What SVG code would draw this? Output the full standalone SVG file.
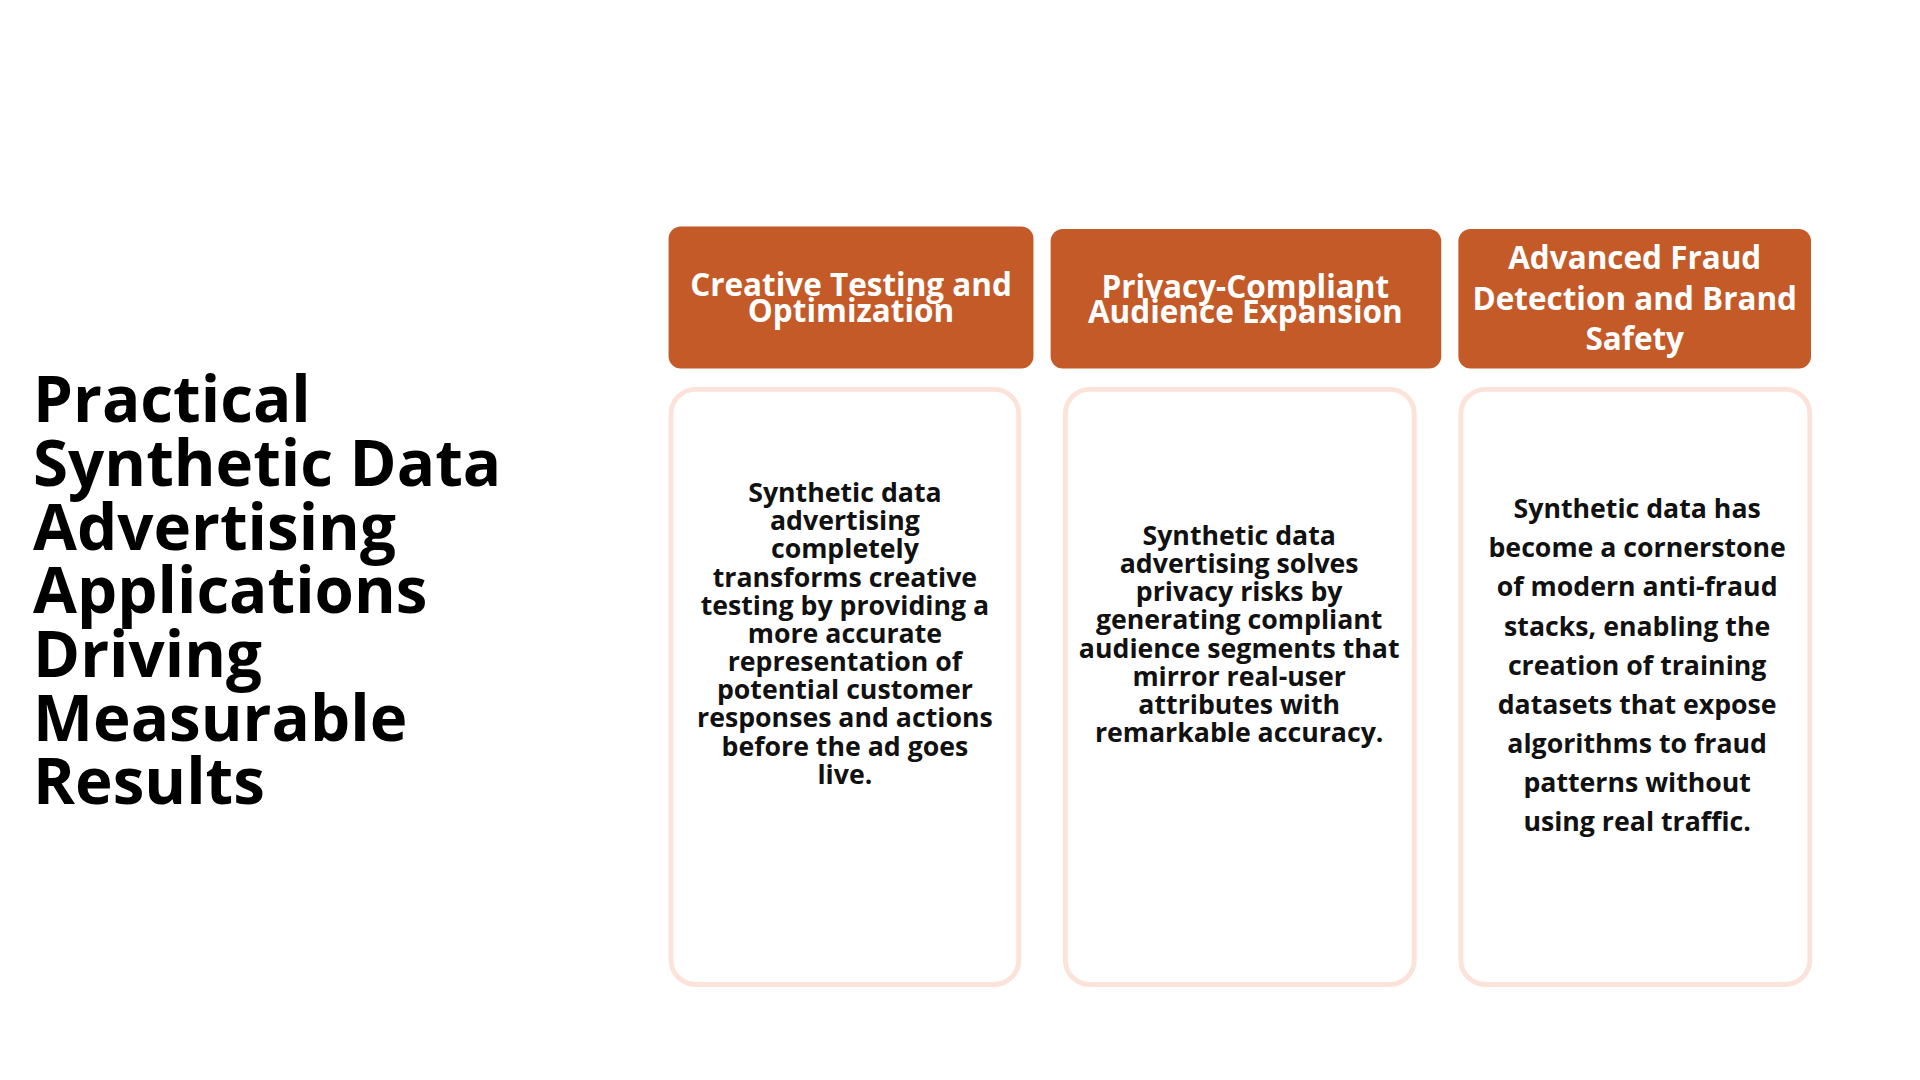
<svg xmlns="http://www.w3.org/2000/svg" width="1920" height="1080" viewBox="0 0 1920 1080">
<style>
.h{fill:#C45A28}
.b{fill:#fff;stroke:#FCE3DA;stroke-width:4}
text{font-family:"Open Sans","Noto Sans",sans-serif;font-weight:bold;text-anchor:middle}
.ht{fill:#fff;font-size:25.7px}
.bt{fill:#111;font-size:21.8px}
.t{font-size:52px;text-anchor:start;fill:#000}
</style>
<rect width="1920" height="1080" fill="#fff"/>
<g transform="scale(1.2245)">
<g id="title"><text class="t" x="28"><tspan x="27" y="345">Practical</tspan><tspan x="27" y="397">Synthetic Data</tspan><tspan x="27" y="449">Advertising</tspan><tspan x="27" y="501">Applications</tspan><tspan x="27" y="553">Driving</tspan><tspan x="27" y="605">Measurable</tspan><tspan x="27" y="657">Results</tspan></text></g>
<g id="h1"><rect class="h" x="546" y="185" width="298" height="116" rx="10"/><text class="ht"><tspan x="695" y="242">Creative Testing and</tspan><tspan x="695" y="263">Optimization</tspan></text></g>
<g id="h2"><rect class="h" x="858" y="187" width="319" height="114" rx="10"/><text class="ht"><tspan x="1017" y="243">Privacy-Compliant</tspan><tspan x="1017" y="264">Audience Expansion</tspan></text></g>
<g id="h3"><rect class="h" x="1191" y="187" width="288" height="114" rx="10"/><text class="ht"><tspan x="1335" y="220">Advanced Fraud</tspan><tspan x="1335" y="253">Detection and Brand</tspan><tspan x="1335" y="286">Safety</tspan></text></g>
<g id="b1"><rect class="b" x="548" y="318" width="284" height="486" rx="20"/><text class="bt"><tspan x="690" y="410">Synthetic data</tspan><tspan x="690" y="433">advertising</tspan><tspan x="690" y="456">completely</tspan><tspan x="690" y="479">transforms creative</tspan><tspan x="690" y="502">testing by providing a</tspan><tspan x="690" y="525">more accurate</tspan><tspan x="690" y="548">representation of</tspan><tspan x="690" y="571">potential customer</tspan><tspan x="690" y="594">responses and actions</tspan><tspan x="690" y="617">before the ad goes</tspan><tspan x="690" y="640">live.</tspan></text></g>
<g id="b2"><rect class="b" x="870" y="318" width="285" height="486" rx="20"/><text class="bt"><tspan x="1012" y="445">Synthetic data</tspan><tspan x="1012" y="468">advertising solves</tspan><tspan x="1012" y="491">privacy risks by</tspan><tspan x="1012" y="514">generating compliant</tspan><tspan x="1012" y="537">audience segments that</tspan><tspan x="1012" y="560">mirror real-user</tspan><tspan x="1012" y="583">attributes with</tspan><tspan x="1012" y="606">remarkable accuracy.</tspan></text></g>
<g id="b3"><rect class="b" x="1193" y="318" width="285" height="486" rx="20"/><text class="bt"><tspan x="1337" y="423">Synthetic data has</tspan><tspan x="1337" y="455">become a cornerstone</tspan><tspan x="1337" y="487">of modern anti-fraud</tspan><tspan x="1337" y="519">stacks, enabling the</tspan><tspan x="1337" y="551">creation of training</tspan><tspan x="1337" y="583">datasets that expose</tspan><tspan x="1337" y="615">algorithms to fraud</tspan><tspan x="1337" y="647">patterns without</tspan><tspan x="1337" y="679">using real traffic.</tspan></text></g>
<g id="connectors"/>
</g>
</svg>
